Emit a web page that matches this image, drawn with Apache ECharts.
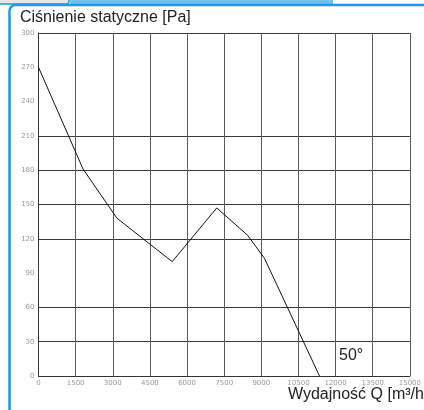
<!DOCTYPE html>
<html>
<head>
<meta charset="utf-8">
<script src="https://cdn.jsdelivr.net/npm/echarts@6/dist/echarts.min.js"></script>
<style>
  html, body { margin: 0; padding: 0; background: #fff; }
  #chart { width: 424px; height: 410px; }
</style>
</head>
<body>
<div id="chart"></div>
<script>
// Fan curve: static pressure vs airflow
const flowValues = [0, 1800, 3170, 5400, 7200, 8450, 9125, 11350];
const pressureValues = [270, 181, 138, 100, 147, 123, 103, 0];
const xTicks = [0, 1500, 3000, 4500, 6000, 7500, 9000, 10500, 12000, 13500, 15000];
const yTicks = [0, 30, 60, 90, 120, 150, 180, 210, 240, 270, 300];
const yHiddenLines = [90, 240, 270];

const yLineColors = yTicks.map(v => yHiddenLines.includes(v) ? 'rgba(0,0,0,0)' : '#3a3a3a');

const chart = echarts.init(document.getElementById('chart'), null, { renderer: 'canvas' });

chart.setOption({
  animation: false,
  backgroundColor: '#fff',
  grid: { left: 38.5, right: 13.5, top: 33, bottom: 34 },
  xAxis: {
    type: 'value',
    min: xTicks[0],
    max: xTicks[xTicks.length - 1],
    interval: 1500,
    axisLine: { show: true, lineStyle: { color: '#333', width: 1 } },
    axisTick: { show: false },
    axisLabel: { color: '#9a9a9a', fontSize: 7, margin: 4, fontFamily: 'DejaVu Sans',
                 showMinLabel: true, showMaxLabel: true, formatter: v => String(v) },
    splitLine: { show: true, lineStyle: { color: '#5a5a5a', width: 1 } }
  },
  yAxis: {
    type: 'value',
    min: yTicks[0],
    max: yTicks[yTicks.length - 1],
    interval: 30,
    axisLine: { show: true, lineStyle: { color: '#333', width: 1 } },
    axisTick: { show: false },
    axisLabel: { color: '#9a9a9a', fontSize: 7, margin: 4, fontFamily: 'DejaVu Sans',
                 formatter: v => String(v) },
    splitLine: { show: true, lineStyle: { color: yLineColors, width: 1 } }
  },
  series: [{
    type: 'line',
    data: flowValues.map((q, i) => [q, pressureValues[i]]),
    showSymbol: false,
    lineStyle: { color: '#111', width: 1 },
    z: 5
  }],
  graphic: [
    // tab strip and frame
    { type: 'rect', shape: { x: 70, y: 0, width: 263, height: 5 }, style: { fill: '#72c2ee' }, silent: true },
    { type: 'rect', shape: { x: -2, y: -4, width: 71, height: 8, r: 3 },
      style: { fill: '#e6e6e6', stroke: '#1e9be0', lineWidth: 1.5 }, silent: true },
    { type: 'rect', shape: { x: 9.5, y: 5, width: 430, height: 420, r: [6, 0, 0, 0] },
      style: { fill: 'none', stroke: '#1e9be0', lineWidth: 2.5 }, silent: true },
    { type: 'text', left: 20, top: 10,
      style: { text: 'Ciśnienie statyczne [Pa]', fill: '#222', font: '16px "Liberation Sans", Arial, sans-serif' } },
    { type: 'text', left: 288, top: 387,
      style: { text: 'Wydajność Q [m³/h]', fill: '#222', font: '16px "Liberation Sans", Arial, sans-serif' } },
    { type: 'text', left: 339, top: 348,
      style: { text: '50°', fill: '#222', font: '16px "Liberation Sans", Arial, sans-serif' } }
  ]
});
</script>
</body>
</html>
